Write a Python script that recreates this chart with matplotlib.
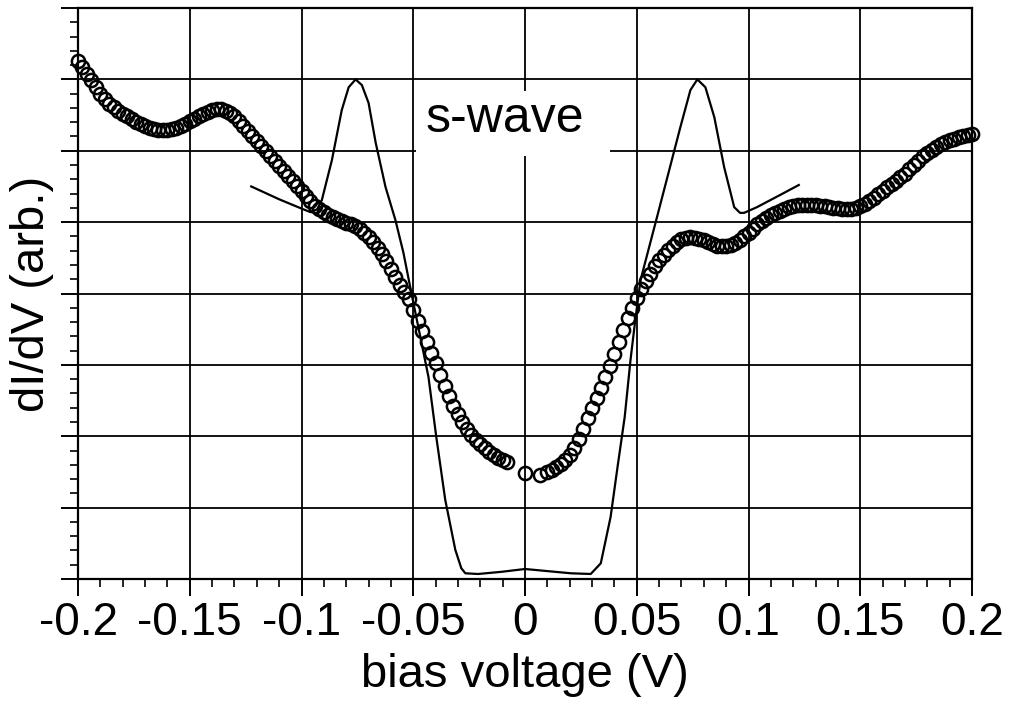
import numpy as np
import matplotlib.pyplot as plt
from matplotlib.ticker import MultipleLocator, NullFormatter
from matplotlib.patches import Rectangle

plt.rcParams['font.family'] = ['Liberation Sans', 'DejaVu Sans']

# measured dI/dV, 2 mV steps (a few points missing around zero bias)
bias_neg = np.round(np.arange(-0.200, -0.0079, 0.002), 3)
didv_neg = [7.26, 7.18, 7.08, 6.99, 6.89, 6.79, 6.72, 6.66, 6.61, 6.56,
            6.52, 6.48, 6.44, 6.40, 6.37, 6.35, 6.32, 6.30, 6.29, 6.29,
            6.29, 6.30, 6.32, 6.35, 6.38, 6.41, 6.44, 6.48, 6.52, 6.55,
            6.57, 6.58, 6.58, 6.56, 6.53, 6.48, 6.42, 6.35, 6.28, 6.21,
            6.14, 6.07, 6.00, 5.93, 5.86, 5.79, 5.71, 5.64, 5.57, 5.50,
            5.43, 5.36, 5.29, 5.23, 5.18, 5.14, 5.10, 5.07, 5.04, 5.01,
            4.99, 4.97, 4.94, 4.90, 4.85, 4.79, 4.72, 4.64, 4.55, 4.45,
            4.34, 4.23, 4.12, 4.02, 3.92, 3.77, 3.62, 3.47, 3.32, 3.17,
            3.02, 2.86, 2.70, 2.56, 2.43, 2.31, 2.20, 2.10, 2.02, 1.95,
            1.89, 1.83, 1.78, 1.74, 1.70, 1.67, 1.64]
bias_mid = [0.0, 0.0066]
didv_mid = [1.48, 1.46]
bias_pos = np.round(np.arange(0.010, 0.2001, 0.002), 3)
didv_pos = [1.50, 1.53, 1.57, 1.61, 1.67, 1.74, 1.84, 1.96, 2.10, 2.25,
            2.40, 2.54, 2.68, 2.83, 2.98, 3.15, 3.32, 3.49, 3.65, 3.79,
            3.93, 4.07, 4.18, 4.28, 4.38, 4.47, 4.54, 4.61, 4.67, 4.72,
            4.76, 4.78, 4.79, 4.78, 4.77, 4.75, 4.72, 4.69, 4.67, 4.66,
            4.66, 4.68, 4.71, 4.75, 4.80, 4.85, 4.91, 4.97, 5.02, 5.06,
            5.10, 5.13, 5.16, 5.19, 5.21, 5.23, 5.24, 5.24, 5.24, 5.24,
            5.24, 5.23, 5.22, 5.21, 5.20, 5.20, 5.19, 5.19, 5.19, 5.20,
            5.22, 5.25, 5.29, 5.34, 5.39, 5.44, 5.49, 5.54, 5.58, 5.63,
            5.68, 5.74, 5.80, 5.86, 5.92, 5.97, 6.01, 6.05, 6.09, 6.12,
            6.15, 6.17, 6.19, 6.21, 6.22, 6.23]

# s-wave fit curve
swave_bias = [-0.1225, -0.110, -0.100, -0.096, -0.093, -0.0909, -0.0864, -0.082,
              -0.0789, -0.0758, -0.073, -0.070, -0.0668, -0.0624, -0.058, -0.0544,
              -0.0508, -0.0432, -0.0397, -0.0357, -0.0312, -0.0285, -0.0267, -0.021,
              -0.0107, 0.0, 0.0102, 0.0205, 0.0294, 0.0339, 0.0383, 0.0414,
              0.0446, 0.0472, 0.0495, 0.0517, 0.0593, 0.0637, 0.0695, 0.074,
              0.0771, 0.0807, 0.0847, 0.0891, 0.0936, 0.0962, 0.098, 0.1038,
              0.1141, 0.1225]
swave_didv = [5.50, 5.32, 5.19, 5.14, 5.18, 5.31, 5.87, 6.57,
              6.89, 7.00, 6.92, 6.67, 6.11, 5.49, 5.03, 4.57,
              4.00, 2.83, 1.99, 1.11, 0.41, 0.15, 0.08, 0.07,
              0.10, 0.14, 0.11, 0.08, 0.07, 0.22, 0.87, 1.57,
              2.27, 3.07, 3.67, 4.19, 5.10, 5.63, 6.33, 6.85,
              7.00, 6.89, 6.47, 5.77, 5.21, 5.13, 5.13, 5.21,
              5.38, 5.52]

bias = np.concatenate([bias_neg, bias_mid, bias_pos])
didv = np.concatenate([didv_neg, didv_mid, didv_pos])

fig = plt.figure(figsize=(10.16, 7.03), dpi=100)
ax = fig.add_axes([0.0768, 0.1764, 0.8799, 0.8122])

ax.plot(bias, didv, 'o', ms=9.5, mfc='none', mec='black', mew=1.8,
        clip_on=False, zorder=4)
ax.plot(swave_bias, swave_didv, '-', color='black', lw=1.6, zorder=3)

ax.set_xlim(-0.2, 0.2)
ax.set_ylim(0, 8)
ax.xaxis.set_major_locator(MultipleLocator(0.05))
ax.xaxis.set_minor_locator(MultipleLocator(0.01))
ax.yaxis.set_major_locator(MultipleLocator(1))
ax.yaxis.set_minor_locator(MultipleLocator(0.2))
ax.yaxis.set_major_formatter(NullFormatter())
ax.set_xticks([-0.2, -0.15, -0.1, -0.05, 0, 0.05, 0.1, 0.15, 0.2])
ax.set_xticklabels(['-0.2', '-0.15', '-0.1', '-0.05', '0', '0.05', '0.1', '0.15', '0.2'])

ax.tick_params(which='major', direction='out', length=12, width=1.4,
               labelsize=33, pad=3.5, color='black')
ax.tick_params(which='minor', direction='out', length=6, width=1.2)
ax.grid(which='major', color='black', lw=1.3)
for s in ax.spines.values():
    s.set_linewidth(1.6)

# white patch behind the label
ax.add_patch(Rectangle((-0.049, 5.92), 0.087, 0.92, fc='white', ec='none', zorder=2))
ax.text(-0.0446, 6.26, 's-wave', fontsize=36, va='baseline', ha='left', zorder=5)

ax.set_xlabel('bias voltage (V)', fontsize=34, labelpad=6)
ax.set_ylabel('dI/dV (arb.)', fontsize=34, labelpad=2)

fig.savefig('out.png', dpi=100)
